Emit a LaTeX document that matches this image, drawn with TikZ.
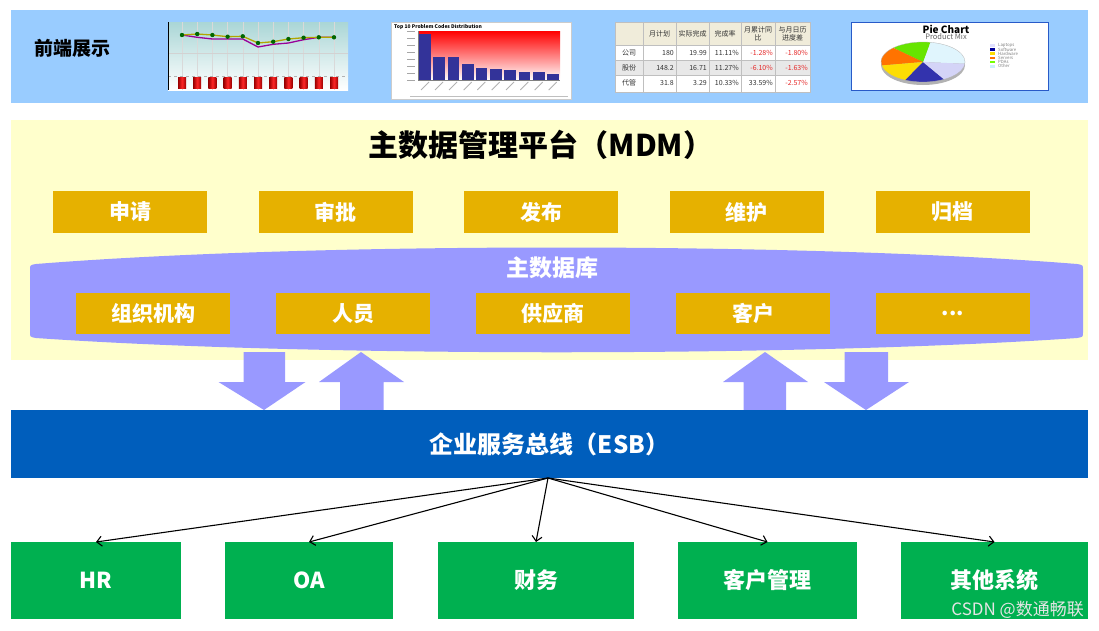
\documentclass[tikz,border=0pt]{standalone}
\usepackage{fontspec}
\setmainfont{Noto Sans CJK SC}
\usetikzlibrary{arrows.meta}
\newcommand{\fsz}[1]{\fontsize{#1}{#1}\selectfont}
\definecolor{topblue}{RGB}{153,204,255}
\definecolor{panelyellow}{RGB}{255,255,204}
\definecolor{gold}{RGB}{230,177,0}
\definecolor{lav}{RGB}{153,153,255}
\definecolor{esbblue}{RGB}{0,94,188}
\definecolor{sysgreen}{RGB}{0,176,80}
\definecolor{chtop}{RGB}{170,214,214}
\definecolor{navybar}{RGB}{51,51,153}
\definecolor{hdrbeige}{RGB}{240,236,218}
\definecolor{negred}{RGB}{230,40,40}
\definecolor{pieframe}{RGB}{40,90,200}
\begin{document}
\begin{tikzpicture}[x=1pt,y=-1pt,
  goldbox/.style={fill=gold, text=white, font=\bfseries\fsz{21}, minimum width=154pt, minimum height=42pt, inner sep=0pt, outer sep=0pt},
  sysbox/.style={fill=sysgreen, text=white, font=\bfseries\fsz{22}, minimum height=77pt, inner sep=0pt, outer sep=0pt},
  link/.style={draw=black, line width=1.1pt, -{Straight Barb[length=5pt,width=10pt]}},
  blockarrow/.style={fill=lav, draw=none},
  cell/.style={font=\fsz{7}, inner sep=0pt, text=black!80},
  negcell/.style={cell, text=negred},
  legend/.style={font=\fsz{4.3}, text=gray, anchor=west, inner sep=0pt}]
\useasboundingbox (0,0) rectangle (1099,630);
\fill[white] (0,0) rectangle (1099,630);

% ---------- top bar ----------
\fill[topblue] (11,10) rectangle (1088,103);
\node[font=\bfseries\fsz{19}, text=black] (fe) at (72,48) {前端展示};

% chart 1: line + bars
\shade[top color=chtop, bottom color=white] (168,22) rectangle (348,90);
\foreach \i in {0,...,10} \draw[gray!30, line width=0.4pt] (182+15.2*\i,22) -- (182+15.2*\i,90);
\draw[gray!35, line width=0.4pt] (168,53) -- (348,53);
\draw[gray!60, line width=0.5pt, dashed] (168,76) -- (348,76);
\draw[black, line width=0.8pt] (168,22) -- (168,90);
\foreach \i in {0,...,10}
  \shade[left color=red!60!black, right color=red!60!black, middle color=red!85] (182+15.2*\i-4,77) rectangle (182+15.2*\i+4,88);
\draw[line width=1.3pt, violet!80!magenta] plot coordinates {(182,35) (197.2,37.3) (212.4,39) (227.6,39) (242.8,39) (258,47) (273.2,44.3) (288.4,43) (303.6,39.7) (318.8,37.3) (334,37.3)};
\draw[line width=1.3pt, olive!70!yellow] plot coordinates {(182,35) (197.2,34) (212.4,35) (227.6,36.7) (242.8,36.3) (258,43) (273.2,41.7) (288.4,39) (303.6,37.7) (318.8,37.3) (334,37.3)};
\foreach \x/\y in {182/35, 197.2/34, 212.4/35, 227.6/36.7, 242.8/36.3, 258/43, 273.2/41.7, 288.4/39, 303.6/37.7, 318.8/37.3, 334/37.3}
  \fill[green!40!black] (\x,\y) circle (2.2pt);

% chart 2: bar chart
\fill[white] (391,22) rectangle (571,99);
\draw[gray!40, line width=0.4pt] (391,22) rectangle (571,99);
\node[font=\bfseries\fsz{5}, anchor=west, inner sep=0pt] (c2t) at (394,27) {Top 10 Problem Codes Distribution};
\shade[top color=red, bottom color=white] (418,31) rectangle (560,80);
\draw[gray, line width=0.4pt] (418,31) -- (418,80) -- (560,80);
\foreach \y in {31,38,45,52,59,66,73,80} \draw[gray!70, line width=0.8pt] (407,\y) -- (415,\y);
\foreach \a/\b/\t in {419.3/431/34.3, 433.3/445/56.7, 447.7/459/57.3, 462/473.7/64.3, 476/487.3/67.7, 490.3/501.7/69, 504.3/516/69.7, 518.7/530.3/71.7, 533/544.7/72, 547.3/558.7/73.7}
{
  \fill[navybar] (\a,\t) rectangle (\b,80);
  \draw[gray!60, line width=0.8pt] (\b-2,82) -- (\b-10,90);
}
\draw[gray!50, line width=0.8pt] (410,96) -- (568,96);

% chart 3: table
\fill[white] (615,22) rectangle (810,92);
\fill[hdrbeige] (615,22) rectangle (810,45);
\fill[gray!18] (615,60) rectangle (810,75);
\draw[gray!50, line width=0.4pt] (615,22) rectangle (810,92);
\foreach \y in {45,60,75} \draw[gray!50, line width=0.4pt] (615,\y) -- (810,\y);
\foreach \x in {643,676,709,741,775} \draw[gray!50, line width=0.4pt] (\x,22) -- (\x,92);
\node[cell] (h1) at (659.5,34) {月计划};
\node[cell] (h2) at (692.5,34) {实际完成};
\node[cell] (h3) at (725,34) {完成率};
\node[cell, align=center, font=\fsz{7}\linespread{0.85}\selectfont] (h4) at (758,34) {月累计同\\比};
\node[cell, align=center, font=\fsz{7}\linespread{0.85}\selectfont] (h5) at (792.5,34) {与月日历\\进度差};
\node[cell] (r1) at (629,52.5) {公司};
\node[cell] (r2) at (629,67.5) {股份};
\node[cell] (r3) at (629,83) {代管};
\node[cell, anchor=east] (a1) at (674,52.5) {180};
\node[cell, anchor=east] (b1) at (707,52.5) {19.99};
\node[cell, anchor=east] (c1) at (739,52.5) {11.11\%};
\node[negcell, anchor=east] (d1) at (773,52.5) {-1.28\%};
\node[negcell, anchor=east] (e1) at (808,52.5) {-1.80\%};
\node[cell, anchor=east] (a2) at (674,67.5) {148.2};
\node[cell, anchor=east] (b2) at (707,67.5) {16.71};
\node[cell, anchor=east] (c2) at (739,67.5) {11.27\%};
\node[negcell, anchor=east] (d2) at (773,67.5) {-6.10\%};
\node[negcell, anchor=east] (e2) at (808,67.5) {-1.63\%};
\node[cell, anchor=east] (a3) at (674,83) {31.8};
\node[cell, anchor=east] (b3) at (707,83) {3.29};
\node[cell, anchor=east] (c3) at (739,83) {10.33\%};
\node[cell, anchor=east] (d3) at (773,83) {33.59\%};
\node[negcell, anchor=east] (e3) at (808,83) {-2.57\%};

% chart 4: pie
\fill[white] (851,22) rectangle (1048,90);
\draw[pieframe, line width=1pt] (851,22) rectangle (1048,90);
\node[font=\bfseries\fsz{10}, inner sep=0pt] (pt) at (946,29.5) {Pie Chart};
\node[font=\fsz{7.5}, text=gray!80!black, inner sep=0pt] (pm) at (946,37) {Product Mix};
\begin{scope}[shift={(923,62)}, y=1pt]
  \fill[gray!60] (0,-3) ellipse [x radius=42, y radius=20];
  \foreach \a/\b/\c in {-5/80/{cyan!12}, 80/135/{green!55!yellow!90!black}, 135/190/{orange!90!red}, 190/245/{yellow!80!orange}, 245/300/{blue!60!black!80}, 300/355/{gray!30!blue!20}}
    \fill[\c] (0,0) -- (\a:42 and 20) arc[start angle=\a, end angle=\b, x radius=42, y radius=20] -- cycle;
  \draw[gray!60, line width=0.3pt] (0,0) ellipse [x radius=42, y radius=20];
\end{scope}
\foreach \y/\c/\t in {45.3/{blue!12}/Laptops, 49.5/{blue!60!black}/Software, 53.7/{yellow!80!orange}/Hardware, 57.9/{orange!90!red}/Servers, 62.1/{green!55!yellow}/PDAs, 66.3/{cyan!20}/Other}
{
  \fill[\c] (990,\y-1.3) rectangle (995,\y+1.3);
  \node[legend] at (998,\y) {\t};
}

% ---------- MDM panel ----------
\fill[panelyellow] (11,120) rectangle (1088,360);
\node[font=\bfseries\fsz{30}, text=black] (mdm) at (541,145) {主数据管理平台（MDM）};
\node[goldbox] (s1) at (130,212) {申请};
\node[goldbox] (s2) at (335.5,212) {审批};
\node[goldbox] (s3) at (541,212) {发布};
\node[goldbox] (s4) at (746.5,212) {维护};
\node[goldbox] (s5) at (952.5,212) {归档};

% block arrows
\coordinate (dA) at (264,352);
\coordinate (uA) at (361.5,410);
\coordinate (uB) at (765,410);
\coordinate (dB) at (866,352);
\fill[blockarrow] (243.5,352) -- (285,352) -- (285,382) -- (305.5,382) -- (264,410) -- (218.5,382) -- (243.5,382) -- cycle;
\fill[blockarrow] (340,411) -- (383.5,411) -- (383.5,382) -- (404,382) -- (361,352) -- (319,382) -- (340,382) -- cycle;
\fill[blockarrow] (743.5,411) -- (786,411) -- (786,382) -- (808,382) -- (765,352) -- (723,382) -- (743.5,382) -- cycle;
\fill[blockarrow] (844.5,352) -- (888,352) -- (888,382) -- (909,382) -- (866,410) -- (824,382) -- (844.5,382) -- cycle;

% master data store
\fill[lav] (30,270) .. controls (30,265) .. (36,264) .. controls (310,242) and (803,242) .. (1077,264) .. controls (1083,265) .. (1083,270) -- (1083,332) .. controls (1083,337) .. (1077,338) .. controls (803,357) and (310,357) .. (36,338) .. controls (30,337) .. (30,332) -- cycle;
\node[font=\bfseries\fsz{23}, text=white] (db) at (552,268) {主数据库};
\node[goldbox, minimum height=41pt] (m1) at (153,313.5) {组织机构};
\node[goldbox, minimum height=41pt] (m2) at (353,313.5) {人员};
\node[goldbox, minimum height=41pt] (m3) at (553,313.5) {供应商};
\node[goldbox, minimum height=41pt] (m4) at (753,313.5) {客户};
\node[goldbox, minimum height=41pt] (m5) at (953,313.5) {...};

% ---------- ESB ----------
\node[fill=esbblue, text=white, font=\bfseries\fsz{24}, minimum width=1077pt, minimum height=68pt, inner sep=0pt, outer sep=0pt] (esb) at (549.5,444) {企业服务总线（ESB）};

% ---------- systems ----------
\node[sysbox, minimum width=170pt] (hr) at (96,580.5) {HR};
\node[sysbox, minimum width=168pt] (oa) at (309,580.5) {OA};
\node[sysbox, minimum width=196pt] (fin) at (536,580.5) {财务};
\node[sysbox, minimum width=179pt] (crm) at (767.5,580.5) {客户管理};
\node[sysbox, minimum width=187pt] (oth) at (994.5,580.5) {其他系统};

\coordinate (hub) at (548,478);
\draw[link] (hub) -- (hr.north);
\draw[link] (hub) -- (oa.north);
\draw[link] (hub) -- (fin.north);
\draw[link] (hub) -- (crm.north);
\draw[link] (hub) -- (oth.north);

\node[font=\fsz{17}, text=white!80!gray, anchor=east, inner sep=0pt] (wm) at (1084,610) {CSDN @数通畅联};
\end{tikzpicture}
\end{document}
